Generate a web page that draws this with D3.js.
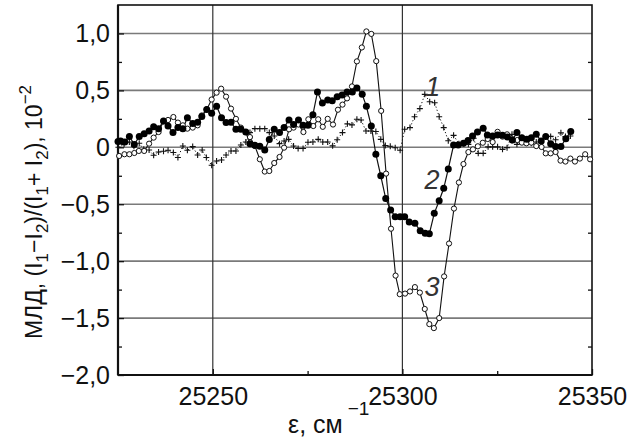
<!DOCTYPE html>
<html>
<head>
<meta charset="utf-8">
<script src="https://cdn.jsdelivr.net/npm/d3@7"></script>
<style>
  body { margin: 0; background: #fff; }
  text { font-family: "Liberation Sans", Arial, sans-serif; fill: #111; }
</style>
</head>
<body>
<script>
// curve 1: crosses, dotted line
var x1 = [25225.1,25226.6,25228.0,25229.2,25230.6,25231.8,25233.2,25234.4,25235.7,25237.0,25238.2,25239.6,25240.8,25242.1,25243.3,25244.7,25246.0,25247.2,25248.3,25249.7,25251.0,25252.3,25253.5,25254.8,25256.1,25257.4,25258.7,25259.8,25261.1,25262.4,25263.7,25264.9,25266.2,25267.6,25268.8,25270.0,25271.3,25272.5,25273.8,25275.1,25276.4,25277.8,25279.0,25280.3,25281.6,25282.8,25284.2,25285.5,25286.7,25288.0,25289.1,25290.4,25291.7,25293.0,25294.3,25295.5,25296.8,25298.1,25299.4,25300.6,25302.0,25303.2,25304.6,25305.9,25307.2,25308.5,25309.7,25310.9,25312.1,25313.5,25314.9,25316.2,25317.4,25318.8,25320.0,25321.3,25322.6,25323.8,25325.1,25326.4,25327.6,25328.9,25330.2,25331.5,25332.8,25334.0,25335.3,25336.6,25337.8,25339.1,25340.4,25341.8,25343.0,25344.3];
var y1 = [0.0,0.026,0.046,0.01,0.035,-0.018,-0.024,-0.07,-0.041,-0.035,-0.026,-0.046,-0.09,0.011,-0.026,0.006,-0.068,-0.024,-0.09,-0.158,-0.12,-0.111,-0.068,-0.032,-0.032,0.02,0.046,0.129,0.164,0.164,0.164,0.129,0.099,0.032,0.055,0.07,0.011,-0.011,-0.011,0.044,0.046,0.07,0.046,0.046,0.013,0.066,0.129,0.206,0.197,0.246,0.24,0.143,0.143,0.139,0.07,0.015,0.009,-0.004,-0.026,0.158,0.173,0.268,0.34,0.465,0.4,0.392,0.269,0.173,0.057,0.105,0.031,0.031,0.026,0.079,-0.053,-0.053,0.004,0.004,0.004,-0.018,-0.003,0.114,0.026,0.085,0.041,0.035,0.046,0.041,0.09,0.096,0.066,0.127,0.094,0.099];

// curve 2: filled circles
var x2 = [25225.0,25225.7,25226.8,25228.0,25229.3,25230.6,25231.9,25233.2,25234.4,25235.7,25237.0,25238.2,25239.5,25240.8,25242.1,25243.3,25244.7,25246.0,25247.1,25248.4,25249.7,25251.0,25252.3,25253.5,25254.8,25256.1,25257.4,25258.7,25259.8,25261.1,25262.4,25263.7,25264.9,25266.2,25267.6,25268.8,25270.1,25271.3,25272.6,25273.8,25275.1,25276.4,25277.6,25278.9,25280.3,25281.5,25282.8,25284.1,25285.4,25286.8,25288.0,25289.4,25290.5,25291.8,25293.0,25294.3,25295.6,25296.9,25298.1,25299.4,25300.6,25301.8,25303.3,25304.7,25306.0,25307.1,25308.4,25309.7,25310.9,25312.1,25313.5,25314.7,25316.1,25317.3,25318.5,25319.8,25321.3,25322.4,25323.8,25325.1,25326.4,25327.7,25329.0,25330.2,25331.5,25332.8,25334.0,25335.3,25336.6,25337.8,25339.1,25340.4,25341.8,25343.1,25344.4];
var y2 = [0.05,0.055,0.046,0.096,0.024,0.096,0.12,0.143,0.18,0.164,0.23,0.187,0.13,0.175,0.164,0.26,0.21,0.22,0.27,0.333,0.30,0.36,0.26,0.217,0.22,0.158,0.158,0.134,0.032,0.018,0.009,-0.024,0.068,0.158,0.129,0.175,0.24,0.20,0.24,0.193,0.193,0.287,0.485,0.39,0.415,0.41,0.445,0.46,0.485,0.485,0.52,0.465,0.36,0.187,-0.061,-0.25,-0.45,-0.55,-0.61,-0.61,-0.61,-0.655,-0.667,-0.734,-0.754,-0.76,-0.58,-0.47,-0.36,-0.19,0.02,0.02,0.035,0.06,0.10,0.134,0.167,0.108,0.10,0.108,0.105,0.09,0.064,0.129,0.085,0.07,0.085,0.114,0.055,0.094,0.032,0.006,0.006,0.076,0.138];

// curve 3: open circles
var x3 = [25225.3,25226.7,25228.0,25229.3,25230.5,25231.9,25233.2,25234.4,25235.7,25237.0,25238.2,25239.6,25240.8,25242.1,25243.3,25244.7,25246.0,25247.1,25248.4,25249.7,25251.0,25252.2,25253.5,25254.8,25256.1,25257.4,25258.7,25259.8,25261.1,25262.4,25263.7,25264.9,25266.2,25267.6,25268.8,25270.1,25271.3,25272.6,25273.9,25275.2,25276.5,25277.8,25279.0,25280.3,25281.7,25283.0,25284.2,25285.4,25286.7,25288.0,25289.3,25290.5,25291.8,25293.1,25294.4,25295.7,25297.0,25298.2,25299.3,25300.7,25302.0,25303.3,25304.6,25305.9,25307.1,25308.3,25309.7,25311.0,25312.3,25313.6,25314.9,25316.1,25317.4,25318.6,25319.9,25321.2,25322.5,25323.8,25325.1,25326.4,25327.6,25328.9,25330.3,25331.5,25332.7,25334.0,25335.3,25336.7,25337.8,25339.1,25340.4,25341.7,25343.0,25344.3,25345.5,25346.8,25348.2,25349.5];
var y3 = [-0.076,-0.061,-0.061,-0.05,-0.032,-0.032,0.032,0.085,0.134,0.228,0.24,0.266,0.217,0.193,0.164,0.173,0.193,0.28,0.333,0.42,0.48,0.515,0.445,0.34,0.25,0.173,0.134,0.09,0.011,-0.105,-0.213,-0.208,-0.138,-0.085,-0.003,0.158,0.173,0.20,0.134,0.246,0.187,0.246,0.18,0.25,0.2,0.33,0.375,0.43,0.535,0.755,0.877,1.018,0.996,0.757,0.32,-0.231,-0.715,-1.127,-1.29,-1.285,-1.266,-1.228,-1.276,-1.42,-1.553,-1.588,-1.5,-1.134,-0.845,-0.538,-0.309,-0.147,-0.042,-0.018,0.009,0.04,0.073,0.046,0.136,0.094,0.114,0.061,0.064,0.041,0.035,0.041,0.011,0.003,-0.053,-0.053,-0.041,-0.117,-0.125,-0.099,-0.125,-0.099,-0.061,-0.105];

var xTicks = [25250, 25300, 25350];
var xMinor = [25275, 25325];
var yTicks = [-2, -1.5, -1, -0.5, 0, 0.5, 1];
var yTickLabels = ["\u22122,0", "\u22121,5", "\u22121,0", "\u22120,5", "0", "0,5", "1,0"];
var yMinor = [-1.75, -1.25, -0.75, -0.25, 0.25, 0.75];

var margin = {top: 5, right: 51, bottom: 68, left: 118},
    width = 643 - margin.left - margin.right,
    height = 443 - margin.top - margin.bottom;

var svg = d3.select("body").append("svg")
    .attr("width", 643)
    .attr("height", 443);

var g = svg.append("g")
    .attr("transform", "translate(" + margin.left + "," + margin.top + ")");

var xScale = d3.scaleLinear().domain([25225, 25350]).range([0, width]);
var yScale = d3.scaleLinear().domain([-2, 1.25]).range([height, 0]);

// horizontal grid
g.selectAll(".hgrid")
    .data(yTicks)
    .enter().append("line")
    .attr("x1", 0).attr("x2", width)
    .attr("y1", function(d) { return yScale(d); })
    .attr("y2", function(d) { return yScale(d); })
    .style("stroke", "#7a7a7a")
    .style("stroke-width", "1.6px");

// vertical grid
g.selectAll(".vgrid")
    .data([25250, 25300])
    .enter().append("line")
    .attr("y1", 0).attr("y2", height)
    .attr("x1", function(d) { return xScale(d); })
    .attr("x2", function(d) { return xScale(d); })
    .style("stroke", "#333")
    .style("stroke-width", "1.2px");

// axes, ticks inside
var xAxis = d3.axisBottom(xScale).tickValues(xTicks).tickSize(-6).tickPadding(12)
    .tickFormat(d3.format("d"));
var xAxisMinor = d3.axisBottom(xScale).tickValues(xMinor).tickSize(-4).tickFormat("");
var yAxis = d3.axisLeft(yScale).tickValues(yTicks).tickSize(-6).tickPadding(8)
    .tickFormat(function(d, i) { return yTickLabels[i]; });
var yAxisMinor = d3.axisLeft(yScale).tickValues(yMinor).tickSize(-4).tickFormat("");
var yAxisRight = d3.axisRight(yScale).tickValues(yMinor).tickSize(-4).tickFormat("");

function styleAxis(sel) {
  sel.select(".domain").remove();
  sel.selectAll("line").style("stroke", "#111").style("stroke-width", "1.3px");
  sel.selectAll("text").style("font-size", "25px").style("fill", "#111")
     .style("font-family", "'Liberation Sans', Arial, sans-serif");
}

g.append("g").attr("transform", "translate(0," + height + ")").call(xAxis).call(styleAxis);
g.append("g").attr("transform", "translate(0," + height + ")").call(xAxisMinor).call(styleAxis);
g.append("g").call(yAxis).call(styleAxis);
g.append("g").call(yAxisMinor).call(styleAxis);
g.append("g").attr("transform", "translate(" + width + ",0)").call(yAxisRight).call(styleAxis);

// frame
g.append("rect")
    .attr("width", width).attr("height", height)
    .style("fill", "none").style("stroke", "#111").style("stroke-width", "1.6px");
g.append("line").attr("x1", 0).attr("x2", 0).attr("y1", 0).attr("y2", height)
    .style("stroke", "#111").style("stroke-width", "2.2px");
g.append("line").attr("x1", 0).attr("x2", width).attr("y1", height).attr("y2", height)
    .style("stroke", "#111").style("stroke-width", "2.2px");

function zip(xs, ys) {
  return xs.map(function(x, i) { return {x: x, y: ys[i]}; });
}
var s1 = zip(x1, y1), s2 = zip(x2, y2), s3 = zip(x3, y3);

var line = d3.line()
    .x(function(d) { return xScale(d.x); })
    .y(function(d) { return yScale(d.y); });

var plot = g.append("g");

plot.append("path").datum(s1).attr("d", line)
    .style("fill", "none").style("stroke", "#111").style("stroke-width", "1px")
    .style("stroke-dasharray", "1.2,2.2");
plot.append("path").datum(s3).attr("d", line)
    .style("fill", "none").style("stroke", "#111").style("stroke-width", "1.1px");
plot.append("path").datum(s2).attr("d", line)
    .style("fill", "none").style("stroke", "#111").style("stroke-width", "1.2px");

// crosses
plot.selectAll(".cross")
    .data(s1)
    .enter().append("path")
    .attr("class", "cross")
    .attr("transform", function(d) { return "translate(" + xScale(d.x) + "," + yScale(d.y) + ")"; })
    .attr("d", "M-3,0H3M0,-3V3")
    .style("stroke", "#111").style("stroke-width", "1.1px");

// open circles
plot.selectAll(".open")
    .data(s3)
    .enter().append("circle")
    .attr("class", "open")
    .attr("cx", function(d) { return xScale(d.x); })
    .attr("cy", function(d) { return yScale(d.y); })
    .attr("r", 2.6)
    .style("fill", "#fff").style("stroke", "#111").style("stroke-width", "1px");

// filled circles
plot.selectAll(".dot")
    .data(s2)
    .enter().append("circle")
    .attr("class", "dot")
    .attr("cx", function(d) { return xScale(d.x); })
    .attr("cy", function(d) { return yScale(d.y); })
    .attr("r", 3.5)
    .style("fill", "#000");

// curve labels
var curveLabels = [
  {t: "1", x: 25306.0, y: 0.45},
  {t: "2", x: 25305.8, y: -0.37},
  {t: "3", x: 25305.8, y: -1.31}
];
g.selectAll(".clabel")
    .data(curveLabels)
    .enter().append("text")
    .attr("x", function(d) { return xScale(d.x); })
    .attr("y", function(d) { return yScale(d.y); })
    .style("font-size", "27px")
    .style("font-style", "italic")
    .style("fill", "#333")
    .text(function(d) { return d.t; });

// x axis title
var xt = svg.append("text")
    .attr("x", 288)
    .attr("y", 433)
    .style("font-size", "25px");
xt.append("tspan").text("\u03b5, \u0441\u043c");
xt.append("tspan").attr("dx", 5).attr("dy", -18).style("font-size", "19px").text("\u22121");

// y axis title
var yt = svg.append("text")
    .attr("transform", "translate(42,212) rotate(-90)")
    .style("text-anchor", "middle")
    .style("font-size", "23px");
yt.append("tspan").text("\u041c\u041b\u0414, (I");
yt.append("tspan").attr("dy", 6).style("font-size", "17px").text("1");
yt.append("tspan").attr("dy", -6).text("\u2212I");
yt.append("tspan").attr("dy", 6).style("font-size", "17px").text("2");
yt.append("tspan").attr("dy", -6).text(")/(I");
yt.append("tspan").attr("dy", 6).style("font-size", "17px").text("1");
yt.append("tspan").attr("dy", -6).text("+ I");
yt.append("tspan").attr("dy", 6).style("font-size", "17px").text("2");
yt.append("tspan").attr("dy", -6).text("), 10");
yt.append("tspan").attr("dy", -11).style("font-size", "17px").text("\u22122");
</script>
</body>
</html>
